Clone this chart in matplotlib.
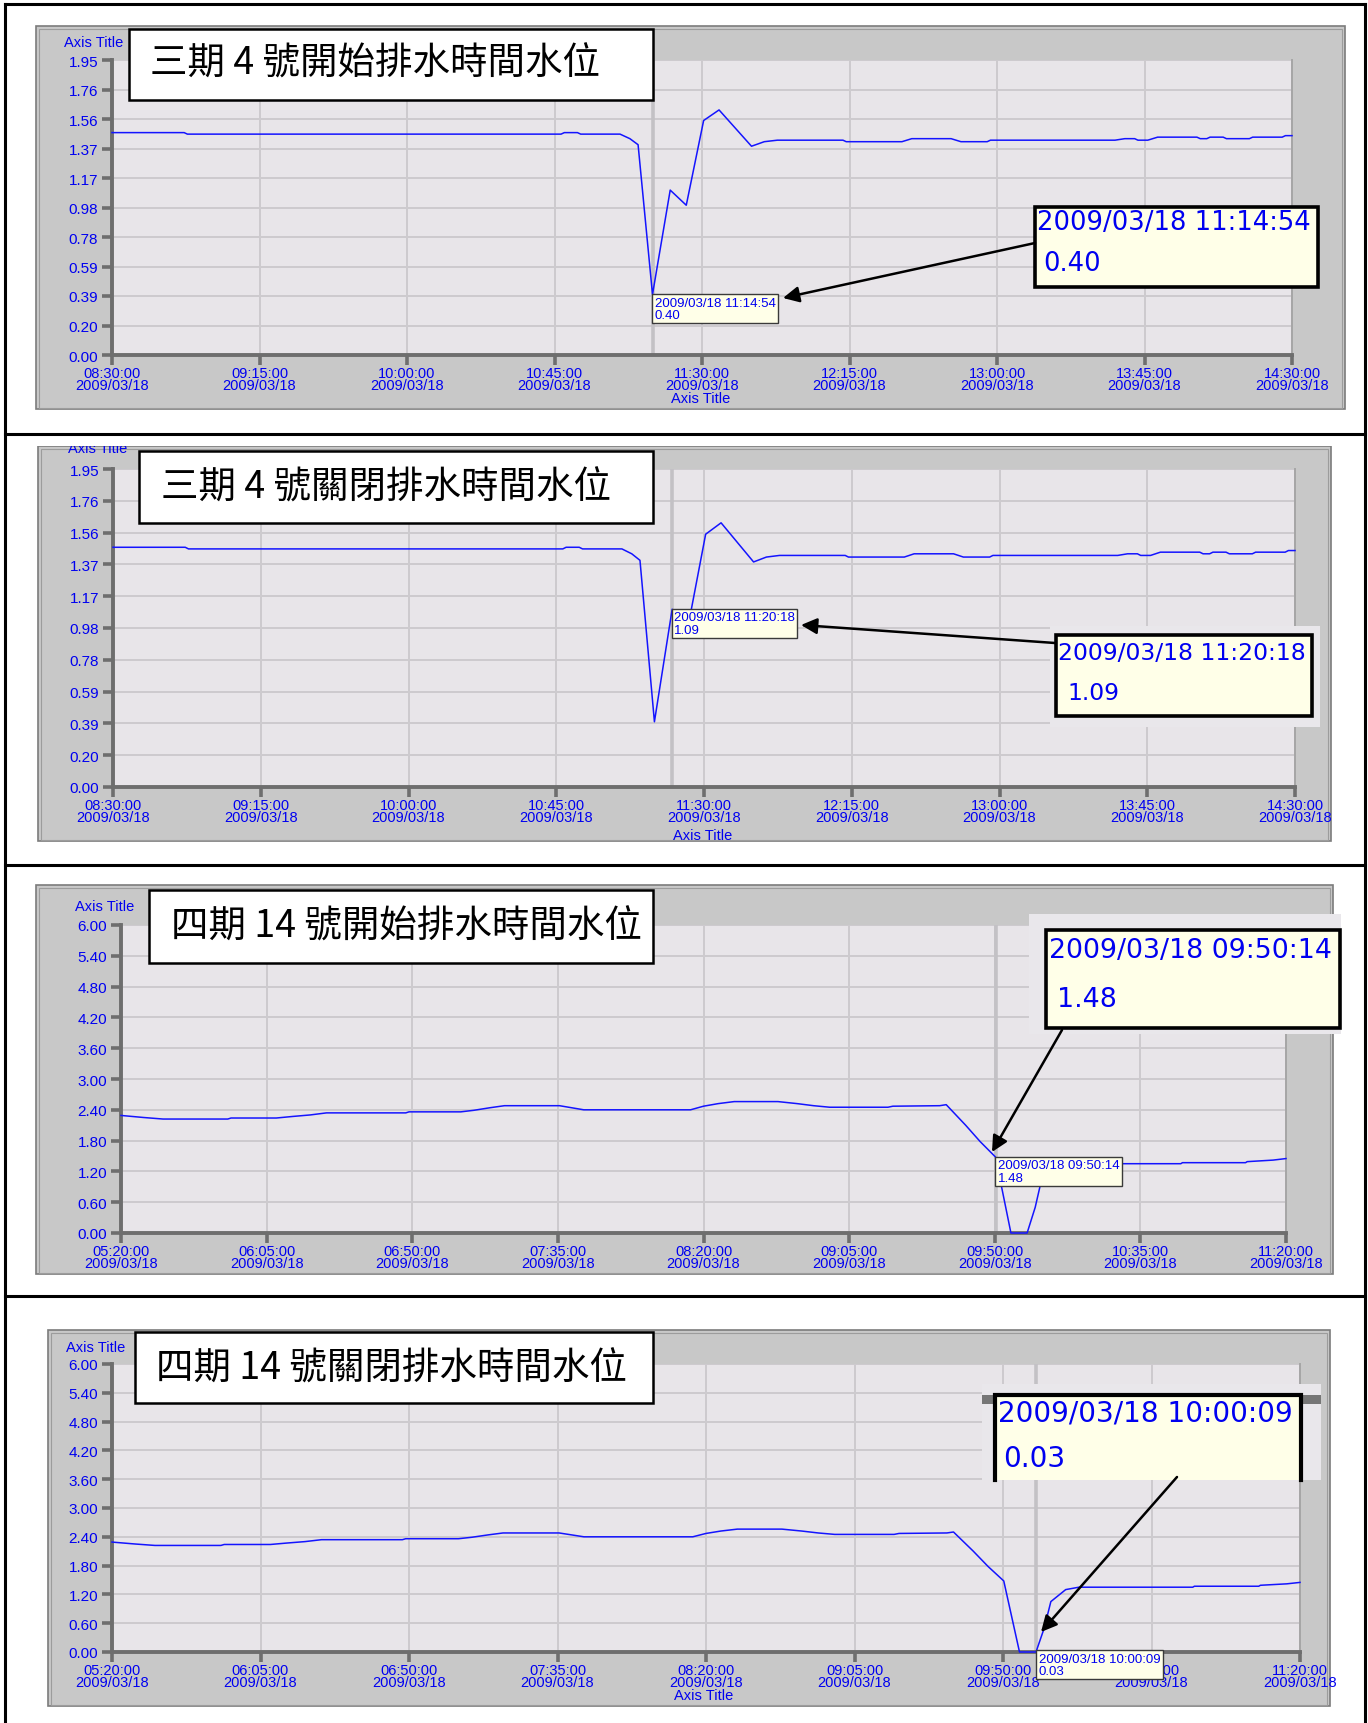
import numpy as np
import matplotlib.pyplot as plt
from matplotlib import font_manager
from matplotlib.patches import Rectangle, FancyArrowPatch

plt.rcParams['font.family'] = ['Liberation Sans', 'DejaVu Sans']

# water level records, 2009/03/18
date = "2009/03/18"

s3_times = ["08:30:00", "08:52:00", "08:53:00", "10:47:00", "10:48:00", "10:52:00", "10:53:00",
            "11:05:00", "11:08:00", "11:10:30", "11:14:54", "11:20:18", "11:25:12", "11:30:30",
            "11:35:12", "11:45:06", "11:49:00", "11:53:00", "12:13:00", "12:14:00", "12:31:00",
            "12:34:00", "12:46:00", "12:49:00", "12:57:00", "12:58:00", "13:36:00", "13:39:00",
            "13:42:00", "13:43:00", "13:46:00", "13:49:00", "14:01:00", "14:02:00", "14:04:00",
            "14:05:00", "14:09:00", "14:10:00", "14:17:00", "14:18:00", "14:27:00", "14:28:00",
            "14:30:00"]
s3_levels = [1.47, 1.47, 1.46, 1.46, 1.47, 1.47, 1.46, 1.46, 1.43, 1.39,
             0.40, 1.09, 0.99, 1.55, 1.62, 1.38, 1.41, 1.42, 1.42, 1.41,
             1.41, 1.43, 1.43, 1.41, 1.41, 1.42, 1.42, 1.43, 1.43, 1.42,
             1.42, 1.44, 1.44, 1.43, 1.43, 1.44, 1.44, 1.43, 1.43, 1.44,
             1.44, 1.45, 1.45]

s4_times = ["05:20:00", "05:27:00", "05:33:00", "05:53:00", "05:54:00", "06:08:00", "06:13:00",
            "06:18:30", "06:23:30", "06:48:00", "06:49:00", "07:05:00", "07:09:00", "07:14:00",
            "07:18:30", "07:35:30", "07:43:00", "08:16:00", "08:20:00", "08:24:30", "08:29:30",
            "08:43:00", "08:49:00", "08:54:00", "08:59:00", "09:17:00", "09:18:30", "09:33:00",
            "09:35:00", "09:41:00", "09:45:30", "09:50:14", "09:55:00", "10:00:00", "10:00:09",
            "10:02:30", "10:04:30", "10:09:00", "10:13:00", "10:47:30", "10:48:00", "11:07:30",
            "11:08:00", "11:16:00", "11:20:00"]
s4_levels = [2.29, 2.25, 2.22, 2.22, 2.24, 2.24, 2.27, 2.30, 2.34, 2.34,
             2.36, 2.36, 2.39, 2.44, 2.48, 2.48, 2.40, 2.40, 2.47, 2.52,
             2.56, 2.56, 2.52, 2.48, 2.45, 2.45, 2.47, 2.48, 2.50, 2.10,
             1.78, 1.48, 0.00, 0.00, 0.03, 0.50, 1.05, 1.30, 1.35, 1.35,
             1.37, 1.37, 1.39, 1.42, 1.45]

s3_ticks = ["08:30:00", "09:15:00", "10:00:00", "10:45:00", "11:30:00",
            "12:15:00", "13:00:00", "13:45:00", "14:30:00"]
s4_ticks = ["05:20:00", "06:05:00", "06:50:00", "07:35:00", "08:20:00",
            "09:05:00", "09:50:00", "10:35:00", "11:20:00"]
s3_ylabels = ["0.00", "0.20", "0.39", "0.59", "0.78", "0.98", "1.17", "1.37", "1.56", "1.76", "1.95"]
s4_ylabels = ["0.00", "0.60", "1.20", "1.80", "2.40", "3.00", "3.60", "4.20", "4.80", "5.40", "6.00"]

titles = ["三期 4 號開始排水時間水位", "三期 4 號關閉排水時間水位",
          "四期 14 號開始排水時間水位", "四期 14 號關閉排水時間水位"]
picked = ["11:14:54", "11:20:18", "09:50:14", "10:00:09"]

# pixel layout of the four panels
panels = [
    dict(times=s3_times, levels=s3_levels, ticks=s3_ticks, ylabels=s3_ylabels, ymax=1.95,
         frame=(36, 27, 1345, 410), plot=(112, 61, 1292, 356),
         tbox=(129, 30, 653, 101), tpos=(150, 64), ylab=(64, 43), xlab=(701, 399),
         patch=None, big=(1035, 208, 1318, 288), bigw=274,
         line1=(1037, 223), line2=(1043, 264), arrow=((1035, 244), (783, 299))),
    dict(times=s3_times, levels=s3_levels, ticks=s3_ticks, ylabels=s3_ylabels, ymax=1.95,
         frame=(38, 447, 1331, 842), plot=(113, 470, 1295, 788),
         tbox=(139, 452, 653, 524), tpos=(161, 488), ylab=(68, 449), xlab=(703, 836),
         patch=(1050, 627, 1320, 728), big=(1056, 636, 1312, 717), bigw=248,
         line1=(1058, 654), line2=(1067, 694), arrow=((1055, 644), (801, 626))),
    dict(times=s4_times, levels=s4_levels, ticks=s4_ticks, ylabels=s4_ylabels, ymax=6.0,
         frame=(36, 886, 1333, 1275), plot=(121, 926, 1286, 1234),
         tbox=(149, 891, 653, 964), tpos=(171, 927), ylab=(75, 907), xlab=None,
         patch=(1029, 915, 1341, 1035), big=(1046, 931, 1340, 1029), bigw=283,
         line1=(1049, 951), line2=(1057, 1000), arrow=((1062, 1031), (992, 1153))),
    dict(times=s4_times, levels=s4_levels, ticks=s4_ticks, ylabels=s4_ylabels, ymax=6.0,
         frame=(48, 1331, 1330, 1707), plot=(112, 1365, 1300, 1653),
         tbox=(135, 1333, 653, 1404), tpos=(156, 1369), ylab=(66, 1348), xlab=(704, 1696),
         patch=(982, 1385, 1321, 1481), big=(995, 1396, 1301, 1481), bigw=296,
         line1=(998, 1414), line2=(1003, 1459), arrow=((1177, 1478), (1041, 1633))),
]

W, H = 1368, 1724
BLUE = '#0000F0'
FRAME = '#C8C8C8'
PLOTBG = '#E8E5E9'
AXIS = '#6E6E6E'

names = {f.name for f in font_manager.fontManager.ttflist}
narrow = 'Liberation Sans Narrow' if 'Liberation Sans Narrow' in names else 'DejaVu Sans'


def minutes(hms):
    h, m, s = (int(p) for p in hms.split(':'))
    return h * 60 + m + s / 60.0


def place(box):
    x0, y0, x1, y1 = box
    return [x0 / W, 1 - y1 / H, (x1 - x0) / W, (y1 - y0) / H]


fig = plt.figure(figsize=(W / 100, H / 100), dpi=100)
renderer = fig.canvas.get_renderer()
bg = fig.add_axes([0, 0, 1, 1], zorder=0)
fg = fig.add_axes([0, 0, 1, 1], zorder=2)
for a in (bg, fg):
    a.set_xlim(0, W)
    a.set_ylim(H, 0)
    a.axis('off')


def rect(ax, box, **kw):
    x0, y0, x1, y1 = box
    ax.add_patch(Rectangle((x0, y0), x1 - x0, y1 - y0, **kw))


for i, p in enumerate(panels):
    # chart frame with bevelled border
    x0, y0, x1, y1 = p['frame']
    rect(bg, p['frame'], fc=FRAME, ec='#7C7C7C', lw=1.2)
    rect(bg, (x0 + 3, y0 + 3, x1 - 3, y1 - 1), fc='none', ec='#9C9C9C', lw=0.8)

    ax = fig.add_axes(place(p['plot']), zorder=1)
    ax.set_facecolor(PLOTBG)
    t = [minutes(s) for s in p['times']]
    ax.plot(t, p['levels'], color='#1414FF', lw=1.1, zorder=3, clip_on=False)

    xt = [minutes(s) for s in p['ticks']]
    ax.set_xlim(xt[0], xt[-1])
    ax.set_ylim(0, p['ymax'])
    ax.set_xticks(xt)
    ax.set_xticklabels([f"{s}\n{date}" for s in p['ticks']], fontsize=10.5, color=BLUE,
                       linespacing=0.8)
    ax.set_yticks(np.linspace(0, p['ymax'], len(p['ylabels'])))
    ax.set_yticklabels(p['ylabels'], fontsize=11, color=BLUE)
    ax.tick_params(axis='x', length=7, width=2.6, color=AXIS, pad=1)
    ax.tick_params(axis='y', length=7, width=2.6, color=AXIS, pad=3)
    ax.grid(True, color='#CDCACE', lw=1.4)
    ax.set_axisbelow(True)
    ax.spines['top'].set_visible(False)
    ax.spines['right'].set_color('#A6A6A6')
    ax.spines['right'].set_linewidth(1.4)
    for side in ('left', 'bottom'):
        ax.spines[side].set_color(AXIS)
        ax.spines[side].set_linewidth(2.8)

    # cursor and read-out at the picked sample
    k = p['times'].index(picked[i])
    tx, tv = minutes(picked[i]), p['levels'][k]
    ax.axvline(tx, color='#C3C1C5', lw=2.6, zorder=1)
    ax.annotate(f"{date} {picked[i]}\n{tv:.2f}", xy=(tx, tv), xytext=(1.5, -1.5),
                textcoords='offset points', ha='left', va='top', fontsize=9.5, color=BLUE,
                linespacing=1.05, annotation_clip=False, zorder=6,
                bbox=dict(boxstyle='square,pad=0.18', fc='#FFFFE8', ec='#3A3A3A', lw=1))

    # axis captions
    fg.text(*p['ylab'], "Axis Title", fontsize=10.5, color=BLUE, ha='left', va='center',
            zorder=2)
    if p['xlab']:
        fg.text(*p['xlab'], "Axis Title", fontsize=10.5, color=BLUE, ha='center', va='center')

    # title box
    rect(fg, p['tbox'], fc='white', ec='black', lw=1.8, zorder=3)
    fg.text(*p['tpos'], titles[i], fontsize=27, ha='left', va='center', zorder=4,
            family=['Noto Sans CJK TC', 'DejaVu Sans'])

    # enlarged read-out
    if p['patch']:
        rect(fg, p['patch'], fc='#E9E7EB', ec='none', zorder=3)
    bx0, by0, bx1, by1 = p['big']
    if i == 3:
        rect(fg, (982, 1396, 1321, 1405), fc='#767676', ec='none', zorder=3)
        rect(fg, p['big'], fc='#FFFFE8', ec='none', zorder=4)
        fg.plot([bx0, bx0, bx1, bx1], [by1, by0, by0, by1], color='black', lw=3,
                solid_joinstyle='miter', zorder=5)
    else:
        rect(fg, p['big'], fc='#FFFFE8', ec='black', lw=2.6, zorder=4)
    head = fg.text(*p['line1'], f"{date} {picked[i]}", fontsize=20, color=BLUE,
                   family=narrow, ha='left', va='center', zorder=6)
    # shrink the read-out so the stamp fills the box width
    size = 20 * p['bigw'] / head.get_window_extent(renderer).width
    head.set_fontsize(size)
    fg.text(*p['line2'], f"{tv:.2f}", fontsize=size, color=BLUE,
            family=narrow, ha='left', va='center', zorder=6)
    fg.add_patch(FancyArrowPatch(p['arrow'][0], p['arrow'][1], arrowstyle='-|>',
                                 mutation_scale=24, lw=1.8, color='black',
                                 shrinkA=0, shrinkB=0, zorder=7))

# clipped top of the second chart
rect(fg, (30, 436, 1340, 447), fc='white', ec='none', zorder=2.5)

# table rules
lw = 2.2
fg.plot([5, 5], [5, H], color='black', lw=lw, zorder=8)
fg.plot([1365, 1365], [5, H], color='black', lw=lw, zorder=8)
for y in (5, 435, 866, 1297):
    fg.plot([5, 1365], [y, y], color='black', lw=lw, zorder=8)

fig.savefig('out.png', dpi=100)
